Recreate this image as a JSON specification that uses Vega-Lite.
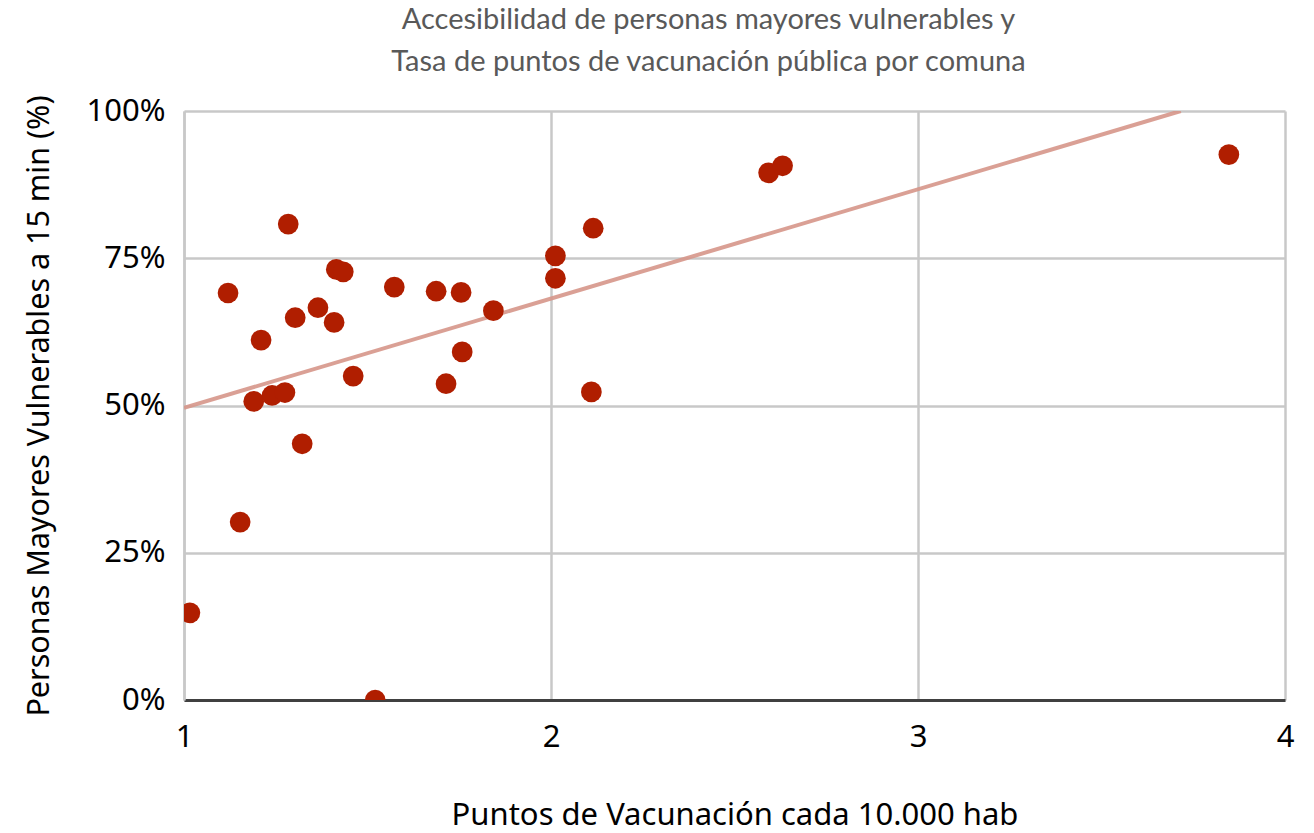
{
  "$schema": "https://vega.github.io/schema/vega-lite/v6.json",
  "width": 1101,
  "height": 589,
  "autosize": "none",
  "padding": {"left": 184, "top": 111, "right": 29, "bottom": 133},
  "background": "white",
  "title": {
    "text": ["Accesibilidad de personas mayores vulnerables y", "Tasa de puntos de vacunación pública por comuna"],
    "font": "Lato",
    "fontSize": 29,
    "fontWeight": "normal",
    "color": "#595959",
    "anchor": "middle",
    "dx": -26,
    "offset": 18,
    "lineHeight": 42
  },
  "config": {
    "view": {"stroke": null},
    "axis": {"labelFont": "Noto Sans", "titleFont": "Noto Sans", "labelColor": "#000000", "titleColor": "#000000", "titleFontWeight": "normal"}
  },
  "datasets": {
    "pts": [
      {"puntos": 1.016, "acc": 0.148},
      {"puntos": 1.12, "acc": 0.691},
      {"puntos": 1.153, "acc": 0.302},
      {"puntos": 1.19, "acc": 0.507},
      {"puntos": 1.21, "acc": 0.611},
      {"puntos": 1.24, "acc": 0.517},
      {"puntos": 1.275, "acc": 0.522},
      {"puntos": 1.284, "acc": 0.808},
      {"puntos": 1.303, "acc": 0.649},
      {"puntos": 1.322, "acc": 0.435},
      {"puntos": 1.365, "acc": 0.666},
      {"puntos": 1.409, "acc": 0.641},
      {"puntos": 1.415, "acc": 0.731},
      {"puntos": 1.434, "acc": 0.727},
      {"puntos": 1.461, "acc": 0.550},
      {"puntos": 1.521, "acc": 0.0},
      {"puntos": 1.573, "acc": 0.701},
      {"puntos": 1.687, "acc": 0.694},
      {"puntos": 1.714, "acc": 0.537},
      {"puntos": 1.755, "acc": 0.692},
      {"puntos": 1.758, "acc": 0.591},
      {"puntos": 1.843, "acc": 0.661},
      {"puntos": 2.012, "acc": 0.754},
      {"puntos": 2.012, "acc": 0.716},
      {"puntos": 2.11, "acc": 0.523},
      {"puntos": 2.115, "acc": 0.801},
      {"puntos": 2.593, "acc": 0.895},
      {"puntos": 2.631, "acc": 0.907},
      {"puntos": 3.847, "acc": 0.926}
    ],
    "trend": [
      {"puntos": 1.0, "acc": 0.496},
      {"puntos": 3.716, "acc": 1.0}
    ]
  },
  "layer": [
    {
      "data": {"name": "trend"},
      "mark": {"type": "line", "color": "#d6968a", "strokeWidth": 4, "opacity": 0.9, "clip": true},
      "encoding": {
        "x": {
          "field": "puntos", "type": "quantitative",
          "scale": {"domain": [1, 4], "nice": false, "zero": false},
          "axis": {
            "values": [1, 2, 3, 4], "format": "d",
            "title": "Puntos de Vacunación cada 10.000 hab",
            "titleFontSize": 31, "titlePadding": 48,
            "labelFontSize": 31, "labelPadding": 22,
            "ticks": false,
            "grid": true, "gridColor": "#c8c8c8", "gridWidth": 2.5,
            "domainColor": "#404040", "domainWidth": 3,
            "labelFlush": false
          }
        },
        "y": {
          "field": "acc", "type": "quantitative",
          "scale": {"domain": [0, 1], "nice": false},
          "axis": {
            "values": [0, 0.25, 0.5, 0.75, 1], "format": ".0%",
            "title": "Personas Mayores Vulnerables a 15 min (%)",
            "titleFontSize": 30.5, "titlePadding": 32,
            "labelFontSize": 31, "labelPadding": 19,
            "ticks": false,
            "grid": true, "gridColor": "#c8c8c8", "gridWidth": 2.5,
            "domainColor": "#c8c8c8", "domainWidth": 2.5
          }
        }
      }
    },
    {
      "data": {"name": "pts"},
      "mark": {"type": "point", "filled": true, "shape": "circle", "size": 430, "color": "#b01e00", "opacity": 1, "clip": true},
      "encoding": {
        "x": {"field": "puntos", "type": "quantitative"},
        "y": {"field": "acc", "type": "quantitative"}
      }
    }
  ]
}
